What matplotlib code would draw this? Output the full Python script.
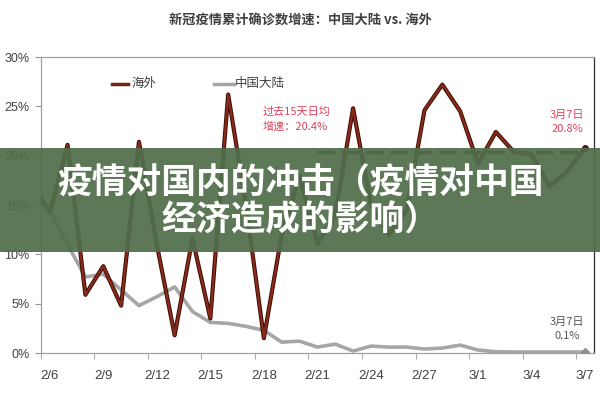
import numpy as np
import matplotlib
matplotlib.use('Agg')
import matplotlib.pyplot as plt
from matplotlib.patches import Rectangle

plt.rcParams['font.family'] = ['Noto Sans CJK SC', 'DejaVu Sans']

# data (% daily growth of cumulative confirmed cases)
dates = ['2/5', '2/6', '2/7', '2/8', '2/9', '2/10', '2/11', '2/12', '2/13', '2/14',
         '2/15', '2/16', '2/17', '2/18', '2/19', '2/20', '2/21', '2/22', '2/23', '2/24',
         '2/25', '2/26', '2/27', '2/28', '2/29', '3/1', '3/2', '3/3', '3/4', '3/5',
         '3/6', '3/7']
overseas = [17.0, 14.2, 21.1, 5.9, 8.8, 4.8, 21.4, 11.0, 1.8, 11.6,
            3.5, 26.2, 15.0, 1.5, 12.0, 18.0, 11.1, 14.0, 24.8, 15.0,
            12.0, 14.5, 24.6, 27.2, 24.5, 19.2, 22.4, 20.4, 20.1, 16.9,
            18.4, 20.8]
mainland = [17.0, 14.5, 11.0, 7.7, 8.0, 6.4, 4.8, 5.7, 6.7, 4.2,
            3.1, 3.0, 2.7, 2.3, 1.1, 1.2, 0.6, 0.9, 0.2, 0.7,
            0.6, 0.6, 0.4, 0.5, 0.8, 0.3, 0.13, 0.1, 0.1, 0.1,
            0.1, 0.1]
avg15 = 20.4
yticks = [0, 5, 10, 15, 20, 25, 30]

x = np.arange(len(dates)) - 1  # index 0 = 2/6

fig = plt.figure(figsize=(6, 4), dpi=100)
ax = fig.add_axes([0.068, 0.1175, 0.922, 0.74])

ax.plot(x, mainland, color='#a6a6a6', lw=2.6, solid_joinstyle='round', zorder=2)
ax.plot(x[-1], mainland[-1], marker='D', ms=4, color='#909090', zorder=3)
ax.plot(x, overseas, color='#3a0f08', lw=3.0, zorder=3)
ax.plot(x, overseas, color='#8b2a1a', lw=1.6, zorder=4)
ax.plot(x[-1], overseas[-1], marker='o', ms=4, color='#5a1a10', zorder=5)
ax.plot([15, 30], [avg15, avg15], color='#4a1a0c', lw=2.5, ls=(0, (5, 2)), zorder=3)

ax.set_xlim(-0.5, 30.5)
ax.set_ylim(0, 30)
ax.set_yticks(yticks)
ax.set_yticklabels([f'{v}%' for v in yticks], fontsize=9, color='#404040',
                   family=['Liberation Sans', 'DejaVu Sans'])
ax.set_xticks(np.arange(0, 31, 3))
ax.set_xticklabels([dates[i + 1] for i in range(0, 31, 3)], fontsize=9.5, color='#404040',
                   family=['Liberation Sans', 'DejaVu Sans'])
ax.set_xticks(np.arange(-0.5, 31, 3), minor=True)
ax.tick_params(axis='x', which='major', length=0, pad=12)
ax.tick_params(axis='x', which='minor', length=4, color='#999999', direction='out')
ax.tick_params(axis='y', length=4, color='#999999', direction='out', pad=4)
for s in ['left', 'bottom', 'top']:
    ax.spines[s].set_color('#a0a0a0')
    ax.spines[s].set_linewidth(0.9)
ax.spines['right'].set_color('#303030')
ax.spines['right'].set_linewidth(0.9)

# legend
ax.plot([3.5, 4.4], [27.3, 27.3], color='#7b2315', lw=2.5, clip_on=False)
ax.text(4.6, 27.3, '海外', fontsize=9, color='#404040', va='center')
ax.plot([9.2, 10.3], [27.3, 27.3], color='#a6a6a6', lw=2.5, clip_on=False)
ax.text(10.35, 27.3, '中国大陆', fontsize=9, color='#404040', va='center')

# annotations
ax.text(11.9, 23.7, '过去15天日均\n增速：20.4%', fontsize=8, color='#e0405a',
        va='center', ha='left', linespacing=1.5)
ax.text(29.0, 23.4, '3月7日\n20.8%', fontsize=8, color='#e0405a',
        va='center', ha='center', linespacing=1.5)
ax.text(29.0, 2.4, '3月7日\n0.1%', fontsize=8, color='#555555',
        va='center', ha='center', linespacing=1.5)

fig.text(0.5, 0.95, '新冠疫情累计确诊数增速：中国大陆 vs. 海外', fontsize=9.5,
         color='#404040', ha='center', va='center', weight='bold')

# overlay banner
fig.patches.append(Rectangle((0, 1 - 252 / 400), 1, 104 / 400, transform=fig.transFigure,
                             facecolor='#4f6e4a', alpha=0.93, edgecolor='none', zorder=10))
fig.text(0.5, 1 - 183 / 400, '疫情对国内的冲击（疫情对中国', fontsize=25, color='white',
         weight='bold', ha='center', va='center', zorder=11)
fig.text(0.5, 1 - 220 / 400, '经济造成的影响）', fontsize=25, color='white',
         weight='bold', ha='center', va='center', zorder=11)

fig.savefig('out.png', dpi=100)
